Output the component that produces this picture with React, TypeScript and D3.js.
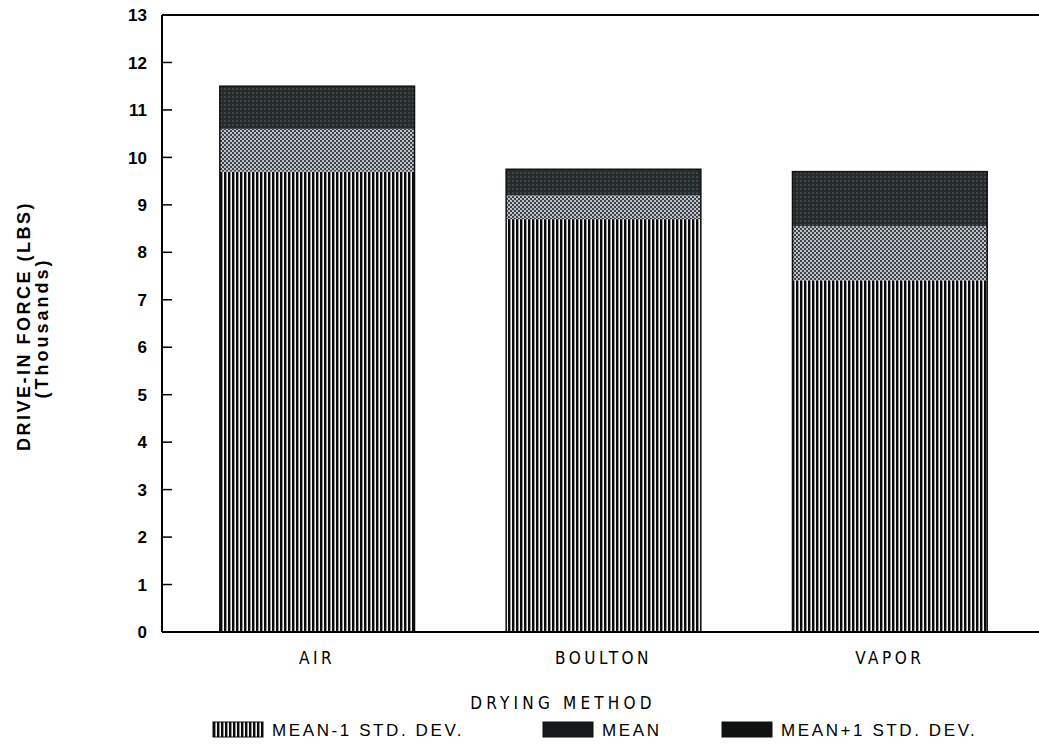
import * as d3 from "d3";

// drive-in force by drying method (thousands of lbs)
const categories = ["AIR", "BOULTON", "VAPOR"];
const meanMinus1 = [9.7, 8.7, 7.4];
const meanValues = [10.6, 9.2, 8.55];
const meanPlus1 = [11.5, 9.75, 9.7];
const yTicks = [0, 1, 2, 3, 4, 5, 6, 7, 8, 9, 10, 11, 12, 13];
const legendLabels = ["MEAN-1 STD. DEV.", "MEAN", "MEAN+1 STD. DEV."];

const W = 1039;
const H = 751;
const axisX = 162;
const axisY = 632;
const topY = 15;

const labelFont = "'DejaVu Sans Condensed', 'DejaVu Sans', sans-serif";
const numFont = "'Liberation Sans', Arial, sans-serif";

const App = () => {
  const x = d3
    .scaleBand()
    .domain(categories)
    .range([174, 1033])
    .paddingInner(0.32)
    .paddingOuter(0.16);

  const y = d3.scaleLinear().domain([0, 13]).range([axisY, topY]);

  const segs = categories.flatMap((c, i) => [
    { c, lo: 0, hi: meanMinus1[i], fill: "url(#stripes)" },
    { c, lo: meanMinus1[i], hi: meanValues[i], fill: "url(#checker)" },
    { c, lo: meanValues[i], hi: meanPlus1[i], fill: "url(#dark)" },
  ]);

  const legendX = [213, 543, 722];
  const legendFill = ["url(#stripes)", "#151818", "#0f1211"];

  return (
    <svg
      width={W}
      height={H}
      style={{ position: "absolute", left: 0, top: 0, background: "#fff" }}
    >
      <defs>
        <pattern id="stripes" width="4" height="4" patternUnits="userSpaceOnUse">
          <rect width="4" height="4" fill="#f4f4f4" />
          <rect width="2.4" height="4" fill="#0a0a0a" />
        </pattern>
        <pattern id="checker" width="4" height="4" patternUnits="userSpaceOnUse">
          <rect width="4" height="4" fill="#bfc3c8" />
          <rect width="2" height="2" fill="#3b4249" />
          <rect x="2" y="2" width="2" height="2" fill="#3b4249" />
        </pattern>
        <pattern id="dark" width="4" height="4" patternUnits="userSpaceOnUse">
          <rect width="4" height="4" fill="#262c2a" />
          <rect width="2" height="2" fill="#3e454b" />
        </pattern>
      </defs>

      {/* bars */}
      {segs.map((s, i) => (
        <rect
          key={i}
          x={x(s.c)}
          y={y(s.hi)}
          width={x.bandwidth()}
          height={y(s.lo) - y(s.hi)}
          fill={s.fill}
        />
      ))}
      {categories.map((c, i) => (
        <rect
          key={c}
          x={x(c)}
          y={y(meanPlus1[i])}
          width={x.bandwidth()}
          height={y(0) - y(meanPlus1[i])}
          fill="none"
          stroke="#111"
          strokeWidth={1.5}
        />
      ))}

      {/* frame */}
      <line x1={axisX} x2={axisX} y1={topY} y2={axisY} stroke="#000" strokeWidth={2} />
      <line x1={axisX} x2={W} y1={axisY} y2={axisY} stroke="#000" strokeWidth={2} />
      <line x1={axisX} x2={W} y1={topY} y2={topY} stroke="#000" strokeWidth={2} />

      {/* y ticks */}
      {yTicks.map((t) => (
        <g key={t} transform={`translate(0,${y(t)})`}>
          <line x1={axisX} x2={axisX + 10} stroke="#000" strokeWidth={1.5} />
          <text
            x={147}
            dy="0.36em"
            textAnchor="end"
            fontFamily={numFont}
            fontWeight="bold"
            fontSize={17}
            fill="#000"
          >
            {t}
          </text>
        </g>
      ))}

      {/* y title */}
      <g transform="translate(30,326) rotate(-90)">
        <text
          textAnchor="middle"
          fontFamily={numFont}
          fontWeight="bold"
          fontSize={18}
          letterSpacing={2.5}
          fill="#000"
        >
          DRIVE-IN FORCE (LBS)
        </text>
      </g>
      <g transform="translate(48,328) rotate(-90)">
        <text
          textAnchor="middle"
          fontFamily={numFont}
          fontWeight="bold"
          fontSize={18}
          letterSpacing={3}
          fill="#000"
        >
          (Thousands)
        </text>
      </g>

      {/* category labels */}
      {categories.map((c) => (
        <text
          key={c}
          x={(x(c) ?? 0) + x.bandwidth() / 2}
          y={664}
          textAnchor="middle"
          fontFamily={labelFont}
          fontSize={17}
          letterSpacing={3.5}
          fill="#000"
        >
          {c}
        </text>
      ))}

      <text
        x={563}
        y={709}
        textAnchor="middle"
        fontFamily={labelFont}
        fontSize={17}
        letterSpacing={4.2}
        fill="#000"
      >
        DRYING METHOD
      </text>

      {/* legend */}
      {legendLabels.map((l, i) => (
        <g key={l} transform={`translate(${legendX[i]},722)`}>
          <rect width={50} height={15} fill={legendFill[i]} stroke="#111" strokeWidth={1} />
          <text
            x={59}
            y={14}
            fontFamily={numFont}
            fontSize={17}
            letterSpacing={2.6}
            fill="#000"
          >
            {l}
          </text>
        </g>
      ))}
    </svg>
  );
};

export default App;
